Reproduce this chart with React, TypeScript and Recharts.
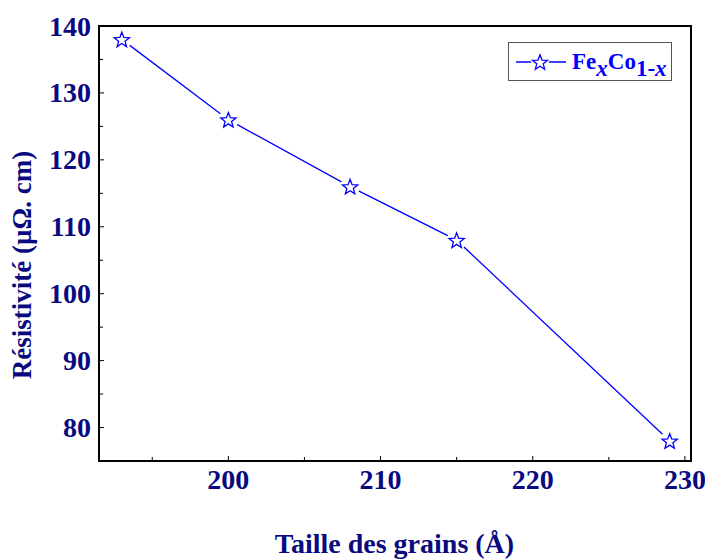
import React from 'react';
import { LineChart, Line, XAxis, YAxis, ReferenceArea, Label } from 'recharts';

const grainSizes = [193, 200, 208, 215, 229];
const resistivity = [138, 126, 116, 108, 78];
const xTicks = [195, 200, 205, 210, 215, 220, 225, 230];
const yTicks = [80, 85, 90, 95, 100, 105, 110, 115, 120, 125, 130, 135, 140];
const xDomain: [number, number] = [191.5, 230.4];
const yDomain: [number, number] = [75, 140];
const xTitle = 'Taille des grains (Å)';
const yTitle = 'Résistivité (µΩ. cm)';

const data = grainSizes.map((g, i) => ({ size: g, rho: resistivity[i] }));

const NAVY = '#0a0a80';
const BLUE = '#0000ff';
const FONT = "'Liberation Serif', 'Times New Roman', serif";

function starPath(cx: number, cy: number, R: number, r: number) {
  const pts: string[] = [];
  for (let i = 0; i < 10; i++) {
    const ang = -Math.PI / 2 + (i * Math.PI) / 5;
    const rad = i % 2 === 0 ? R : r;
    pts.push(`${(cx + rad * Math.cos(ang)).toFixed(2)},${(cy + rad * Math.sin(ang)).toFixed(2)}`);
  }
  return 'M' + pts.join('L') + 'Z';
}

const StarDot = (props: any) => {
  const { cx, cy } = props;
  if (cx == null || cy == null) return <g />;
  return (
    <g>
      <circle cx={cx} cy={cy} r={10} fill="#fff" />
      <path d={starPath(cx, cy + 0.8, 8, 3.4)} fill="#fff" stroke={BLUE} strokeWidth={1.3} />
    </g>
  );
};

const XTick = (props: any) => {
  const { x, y, payload } = props;
  const v = payload.value;
  const major = v % 10 === 0;
  return (
    <g>
      <line x1={x} x2={x} y1={y} y2={y - (major ? 5 : 4)} stroke="#000" strokeWidth={1} />
      {major && (
        <text x={x} y={y + 28} textAnchor="middle" fill={NAVY} fontFamily={FONT} fontWeight="bold" fontSize={28}>
          {v}
        </text>
      )}
    </g>
  );
};

const YTick = (props: any) => {
  const { x, y, payload } = props;
  const v = payload.value;
  const major = v % 10 === 0;
  return (
    <g>
      <line x1={x} x2={x + (major ? 5 : 4)} y1={y} y2={y} stroke="#000" strokeWidth={1} />
      {major && (
        <text x={x - 8} y={y + 9.5} textAnchor="end" fill={NAVY} fontFamily={FONT} fontWeight="bold" fontSize={28}>
          {v}
        </text>
      )}
    </g>
  );
};

export default function App() {
  return (
    <div style={{ position: 'absolute', left: 0, top: 0, width: 705, height: 559, background: '#fff' }}>
      <LineChart width={705} height={559} data={data} margin={{ top: 26, right: 14, left: 0, bottom: 0 }}>
        <XAxis
          dataKey="size"
          type="number"
          domain={xDomain}
          ticks={xTicks}
          allowDataOverflow
          height={98}
          tickSize={0}
          tickMargin={0}
          tickLine={false}
          axisLine={false}
          tick={<XTick />}
          interval={0}
        >
          <Label
            content={() => (
              <text x={394.5} y={553} textAnchor="middle" fill={NAVY} fontFamily={FONT} fontWeight="bold" fontSize={28}>
                {xTitle}
              </text>
            )}
          />
        </XAxis>
        <YAxis
          dataKey="rho"
          type="number"
          domain={yDomain}
          ticks={yTicks}
          allowDataOverflow
          width={99}
          tickSize={0}
          tickMargin={0}
          tickLine={false}
          axisLine={false}
          tick={<YTick />}
          interval={0}
        >
          <Label
            content={() => (
              <text
                x={31}
                y={265}
                transform="rotate(-90, 31, 265)"
                textAnchor="middle"
                fill={NAVY}
                fontFamily={FONT}
                fontWeight="bold"
                fontSize={27}
              >
                {yTitle}
              </text>
            )}
          />
        </YAxis>
        <ReferenceArea
          x1={xDomain[0]}
          x2={xDomain[1]}
          y1={yDomain[0]}
          y2={yDomain[1]}
          fill="none"
          stroke="#000"
          strokeWidth={2}
          ifOverflow="visible"
        />
        <Line
          type="linear"
          dataKey="rho"
          stroke={BLUE}
          strokeWidth={1.3}
          dot={(p: any) => <StarDot key={`d${p.index}`} {...p} />}
          activeDot={false}
          isAnimationActive={false}
        />
      </LineChart>
      <div
        style={{
          position: 'absolute',
          left: 508,
          top: 42,
          width: 162,
          height: 37,
          border: '1.5px solid #555',
          background: '#fff',
          display: 'flex',
          alignItems: 'center',
          fontFamily: FONT,
          fontWeight: 'bold',
          fontSize: 23,
          color: BLUE,
        }}
      >
        <svg width={56} height={24} style={{ marginLeft: 5, flex: 'none' }}>
          <line x1={2} x2={52} y1={12} y2={12} stroke={BLUE} strokeWidth={1.3} />
          <circle cx={26} cy={12} r={9} fill="#fff" />
          <path d={starPath(26, 12.8, 8, 3.4)} fill="#fff" stroke={BLUE} strokeWidth={1.3} />
        </svg>
        <span style={{ marginLeft: 2, whiteSpace: 'nowrap', lineHeight: 1 }}>
          Fe
          <span style={{ fontStyle: 'italic', position: 'relative', top: 7 }}>x</span>
          Co
          <span style={{ position: 'relative', top: 7 }}>
            1-<span style={{ fontStyle: 'italic' }}>x</span>
          </span>
        </span>
      </div>
    </div>
  );
}
